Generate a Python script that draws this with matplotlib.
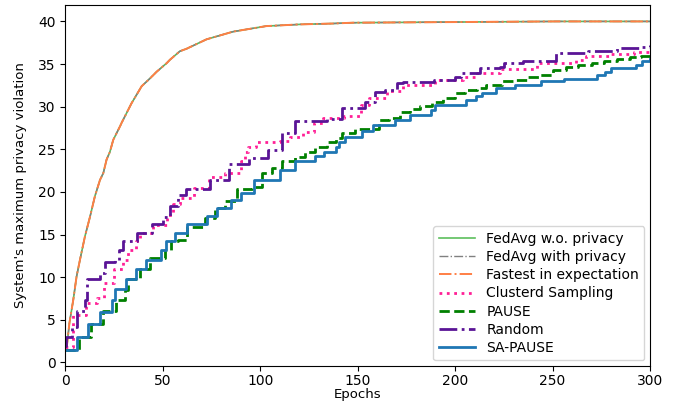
import matplotlib
matplotlib.use("Agg")
import matplotlib.pyplot as plt

# privacy violation of the FedAvg-style baselines (all three overlap)
fedavg_epochs = [0, 0.6, 2, 4, 5.7, 7.4, 10, 12.6, 15.1, 17.7, 19.4, 21.1, 22.8,
                 24.5, 28, 28.8, 33.9, 39.1, 43.3, 46.8, 51.9, 53.6, 58.7, 62.2,
                 72.4, 86, 103, 120, 137, 147.5, 252, 300]
fedavg_vals = [1.5, 1.7, 4.6, 7.35, 10.1, 12.0, 14.8, 17.1, 19.5, 21.4, 22.2,
               23.8, 24.7, 26.1, 27.7, 28.1, 30.4, 32.4, 33.3, 34.1, 35.1, 35.5,
               36.5, 36.8, 37.9, 38.8, 39.45, 39.65, 39.75, 39.85, 40.0, 40.0]

cluster_epochs = [0, 3.7, 10.5, 16, 20, 25, 29.6, 32, 36, 38, 45, 52, 55, 58.7,
                  66, 73.5, 82, 90, 92, 93.6, 98, 110, 115, 122, 127.5, 132,
                  143, 151.5, 156, 165, 173, 189.5, 204, 211, 223, 242, 262,
                  267, 280, 292, 300]
cluster_vals = [1.8, 5.6, 7.0, 7.6, 9.3, 11.0, 12.0, 13.2, 14.2, 15.2, 16.1,
                17.3, 18.6, 19.3, 20.5, 21.8, 22.2, 23.6, 24.7, 25.3, 25.9,
                25.95, 26.5, 27.05, 28.1, 28.7, 28.85, 30.2, 31.0, 31.8, 32.55,
                33.1, 33.5, 33.9, 34.4, 35.1, 35.5, 35.96, 36.2, 36.4, 36.4]

pause_epochs = [0, 7, 13, 19, 26, 30.5, 32.2, 38.2, 43.3, 51, 54, 58, 62.2,
                71.5, 76.7, 81.8, 87.8, 95.5, 101, 106, 111, 118, 123, 128,
                134, 139, 142, 148.5, 161, 166, 171.5, 176.7, 182, 188, 193.6,
                200, 205, 211, 216, 224, 230, 237, 243, 250, 256.7, 263, 270,
                276.6, 283, 289.5, 295.6, 300]
pause_vals = [1.5, 3.0, 4.5, 6.0, 7.3, 8.5, 9.8, 11.0, 12.2, 13.2, 14.2, 14.4,
              15.9, 16.9, 18.1, 18.9, 20.4, 20.6, 22.2, 22.8, 23.6, 24.1, 24.7,
              25.3, 25.9, 26.3, 26.9, 27.4, 28.45, 28.7, 29.4, 29.7, 30.1,
              30.6, 31.0, 31.6, 31.9, 32.2, 32.6, 32.97, 33.1, 33.5, 33.7,
              34.3, 34.6, 34.9, 35.1, 35.3, 35.6, 35.8, 35.96, 35.96]

random_epochs = [0, 0.5, 3.2, 6, 10, 11.2, 17.7, 20.3, 25.4, 27.4, 29.6, 36.5,
                 44.2, 50, 53.6, 58, 62, 74, 84, 94, 104, 111, 118, 134, 142,
                 153.5, 159, 164, 170, 173, 189, 200, 203, 213, 223, 225, 235,
                 252, 268, 283, 296, 300]
random_vals = [1.9, 3.0, 4.2, 6.0, 7.3, 9.8, 10.5, 11.8, 12.0, 13.2, 14.2, 15.2,
               16.2, 17.1, 18.3, 19.6, 20.4, 21.4, 23.3, 24.0, 24.9, 26.9, 28.3,
               28.6, 29.9, 30.6, 31.7, 32.0, 32.75, 32.95, 33.1, 33.5, 33.9,
               34.5, 34.6, 35.1, 35.3, 36.3, 36.5, 36.9, 37.05, 37.25]

sapause_epochs = [0, 6, 11.4, 17.7, 24, 25.4, 30.9, 36, 41.1, 49.1, 51.4, 56.2,
                  62.2, 72.7, 77.8, 85.2, 90.3, 96.7, 110, 118, 128.3, 132.7,
                  139, 140.4, 143.3, 152.4, 157.8, 169, 176.7, 187.8, 189.5,
                  205.7, 210.9, 214, 221, 230.5, 244, 256, 273, 276.7, 280,
                  293, 296, 300]
sapause_vals = [1.5, 3.0, 4.45, 5.9, 7.35, 8.6, 9.8, 10.9, 12.0, 13.2, 14.2,
                15.2, 16.2, 17.2, 18.1, 19.0, 19.9, 21.4, 22.6, 23.6, 24.2,
                24.7, 25.3, 25.9, 26.5, 27.2, 27.9, 28.45, 29.0, 29.6, 30.2,
                30.8, 31.2, 31.6, 32.2, 32.6, 33.0, 33.3, 33.7, 34.1, 34.5,
                34.9, 35.3, 35.6]

fig = plt.figure(figsize=(6.78, 4.04), dpi=100)
ax = fig.add_axes([0.0966, 0.094, 0.8621, 0.8936])

ax.plot(fedavg_epochs, fedavg_vals, color="#5cbf5c", linewidth=1.2,
        label="FedAvg w.o. privacy")
ax.plot(fedavg_epochs, fedavg_vals, color="grey", linestyle="-.", linewidth=1.0,
        label="FedAvg with privacy")
ax.plot(fedavg_epochs, fedavg_vals, color="#ff7f45", linestyle="-.", linewidth=1.4,
        label="Fastest in expectation")
ax.step(cluster_epochs, cluster_vals, where="post", color="#ff1f96",
        linestyle=":", linewidth=2, label="Clusterd Sampling")
ax.step(pause_epochs, pause_vals, where="post", color="green",
        linestyle="--", linewidth=2, label="PAUSE")
ax.step(random_epochs, random_vals, where="post", color="#5a1496",
        linestyle="-.", linewidth=2, label="Random")
ax.step(sapause_epochs, sapause_vals, where="post", color="#1f77b4",
        linewidth=2, label="SA-PAUSE")

ax.set_xlim(0, 300)
ax.tick_params(labelsize=10)
ax.tick_params(axis="x", pad=2.5)
ax.set_xlabel("Epochs", fontsize=9.5, labelpad=0)
ax.set_ylabel("System's maximum privacy violation", fontsize=9.5, labelpad=8)
ax.legend(loc="lower right", fontsize=10, handlelength=2.6,
          labelspacing=0.3, borderaxespad=0.4)

fig.savefig("out.png", dpi=100)
